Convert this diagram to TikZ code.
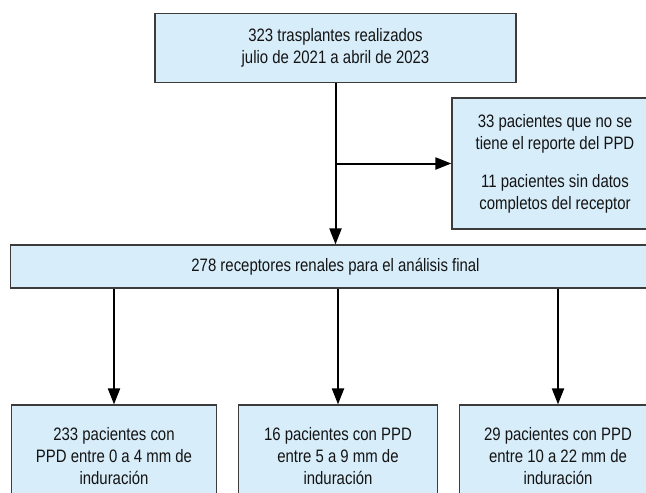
\documentclass[tikz,border=0pt]{standalone}
\usepackage{fontspec}
\setmainfont{Liberation Sans}[FakeStretch=0.83]
\usetikzlibrary{positioning, arrows.meta}
\definecolor{boxfill}{HTML}{D7EDFA}
\definecolor{boxline}{HTML}{3C3C3C}

\begin{document}
\begin{tikzpicture}[x=1pt, y=1pt, on grid,
    box/.style = {draw=boxline, line width=1.2pt, fill=boxfill, align=center,
                  text=black!92, inner sep=0pt,
                  font=\fontsize{18}{22}\selectfont},
    group/.style = {box, minimum height=102pt},
    flow/.style = {line width=2pt, -{Triangle[length=16pt, width=12pt]}}]
  \useasboundingbox (0,0) rectangle (646,-493);
  \node[box, minimum width=361pt, minimum height=68.5pt] (total) at (335.5,-48)
    {323 trasplantes realizados\\julio de 2021 a abril de 2023};
  \node[box, minimum width=206pt, minimum height=131pt] (excl)
    [below right=115.5pt and 219.5pt of total]
    {33 pacientes que no se\\tiene el reporte del PPD\\[16pt]
     11 pacientes sin datos\\completos del receptor};
  \node[box, minimum width=650pt, minimum height=43pt] (final)
    [below=218.5pt of total] {278 receptores renales para el análisis final};
  \node[group, minimum width=205pt] (low) [below left=189.5pt and 221.5pt of final]
    {233 pacientes con\\PPD entre 0 a 4 mm de\\induración};
  \node[group, minimum width=199pt] (mid) [below right=189.5pt and 2.5pt of final]
    {16 pacientes con PPD\\entre 5 a 9 mm de\\induración};
  \node[group, minimum width=197pt] (high) [below right=189.5pt and 222.5pt of final]
    {29 pacientes con PPD\\entre 10 a 22 mm de\\induración};
  \draw[flow] (total.south) -- (total.south |- final.north);
  \draw[flow] (total.south |- excl.west) -- (excl.west);
  \draw[flow] (final.south -| low) -- (low);
  \draw[flow] (final.south -| mid) -- (mid);
  \draw[flow] (final.south -| high) -- (high);
\end{tikzpicture}
\end{document}
